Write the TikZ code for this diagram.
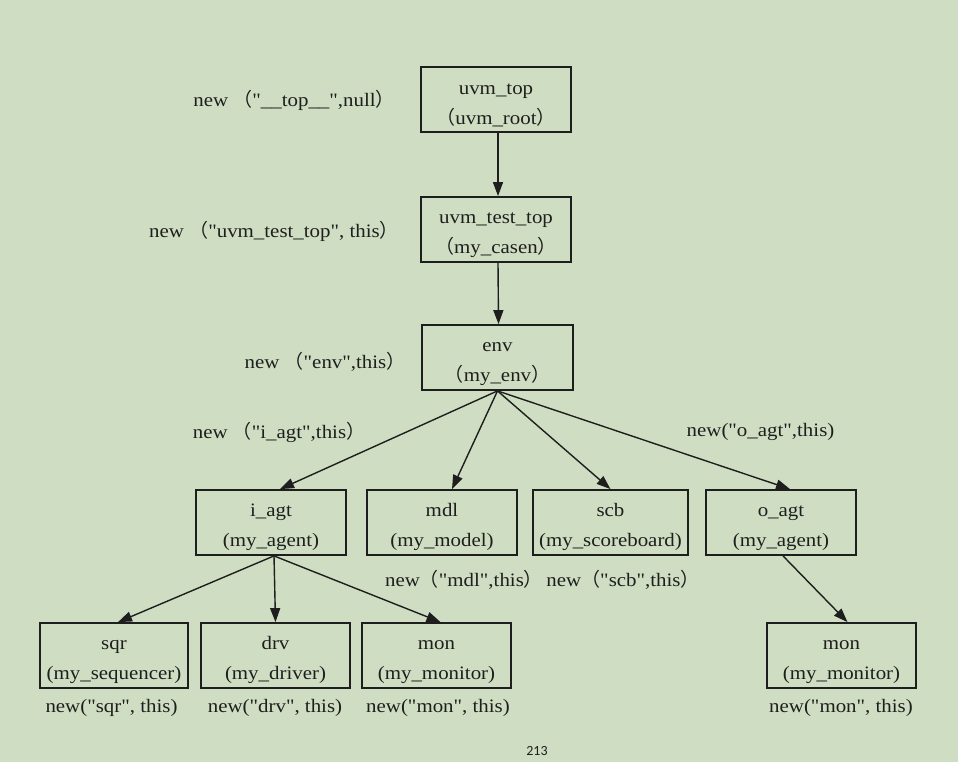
\documentclass[tikz,border=0pt]{standalone}
\usepackage{fontspec}
\setmainfont{Liberation Serif}[FakeStretch=1.1, Ligatures=TeXOff]
\newfontfamily\cjkparen{Noto Sans CJK SC}[FakeStretch=1.0]
\newfontfamily\pagefont{Carlito}
\usetikzlibrary{arrows.meta}
\newcommand{\flp}{{\cjkparen （}}
\newcommand{\frp}{{\cjkparen ）}}
\definecolor{bg}{RGB}{207,222,194}
\definecolor{ink}{RGB}{30,30,30}
\tikzset{
  compbox/.style={draw=ink, line width=1.8pt, fill=bg, minimum width=150pt, minimum height=65pt,
    align=center, inner sep=0pt, font=\fontsize{19}{30}\selectfont, text=ink, text height=53pt},
  lbl/.style={inner sep=0pt, font=\fontsize{19}{22}\selectfont, text=ink, anchor=center},
  edge/.style={draw=ink, line width=1.4pt, -{Triangle[length=14pt,width=10pt]}}
}
\begin{document}
\begin{tikzpicture}[x=1pt,y=-1pt]
\fill[bg] (0,0) rectangle (958,762);
\useasboundingbox (0,0) rectangle (958,762);

\node[compbox] (top) at (496,99.5) {uvm\_top\\\flp uvm\_root\frp};
\node[compbox] (test) at (496,229.5) {uvm\_test\_top\\\flp my\_casen\frp};
\node[compbox, minimum width=151pt] (env) at (497.5,357.5) {env\\\flp my\_env\frp};
\node[compbox] (iagt) at (271,522.5) {i\_agt\\(my\_agent)};
\node[compbox] (mdl) at (442,522.5) {mdl\\(my\_model)};
\node[compbox, minimum width=155pt] (scb) at (610.5,522.5) {scb\\(my\_scoreboard)};
\node[compbox] (oagt) at (781,522.5) {o\_agt\\(my\_agent)};
\node[compbox, minimum width=148pt] (sqr) at (114,655.5) {sqr\\(my\_sequencer)};
\node[compbox, minimum width=149pt] (drv) at (275.5,655.5) {drv\\(my\_driver)};
\node[compbox, minimum width=149pt] (mon) at (436.5,655.5) {mon\\(my\_monitor)};
\node[compbox, minimum width=149pt] (mon2) at (841.5,655.5) {mon\\(my\_monitor)};

\node[lbl] (ltop) at (294,100) {new \flp"\_\_top\_\_",null\frp};
\node[lbl] (ltest) at (274,231) {new \flp"uvm\_test\_top", this\frp};
\node[lbl] (lenv) at (325,362) {new \flp"env",this\frp};
\node[lbl] (liagt) at (279,432) {new \flp"i\_agt",this\frp};
\node[lbl] (loagt) at (760.5,432) {new("o\_agt",this)};
\node[lbl] (lmdl) at (464,580) {new\flp"mdl",this\frp};
\node[lbl] (lscb) at (623,580) {new\flp"scb",this\frp};
\node[lbl] (lsqr) at (111.5,708) {new("sqr", this)};
\node[lbl] (ldrv) at (275,708) {new("drv", this)};
\node[lbl] (lmon) at (438,708) {new("mon", this)};
\node[lbl] (lmon2) at (841,708) {new("mon", this)};
\node[inner sep=0pt, font=\pagefont\fontsize{14}{16}\selectfont, text=ink] (page) at (537,751) {213};

\draw[edge] ([xshift=2pt]top.south) -- ([xshift=2pt]test.north);
\draw[edge] ([xshift=2pt]test.south) -- ([xshift=1pt]env.north);
\draw[edge] (env.south) -- ([xshift=9pt]iagt.north);
\draw[edge] (env.south) -- ([xshift=10pt]mdl.north);
\draw[edge] (env.south) -- (scb.north);
\draw[edge] (env.south) -- ([xshift=9pt]oagt.north);
\draw[edge] ([xshift=3pt]iagt.south) -- ([xshift=4pt]sqr.north);
\draw[edge] ([xshift=3pt]iagt.south) -- (drv.north);
\draw[edge] ([xshift=3pt]iagt.south) -- ([xshift=4pt]mon.north);
\draw[edge] ([xshift=2pt]oagt.south) -- ([xshift=6pt]mon2.north);
\end{tikzpicture}
\end{document}
